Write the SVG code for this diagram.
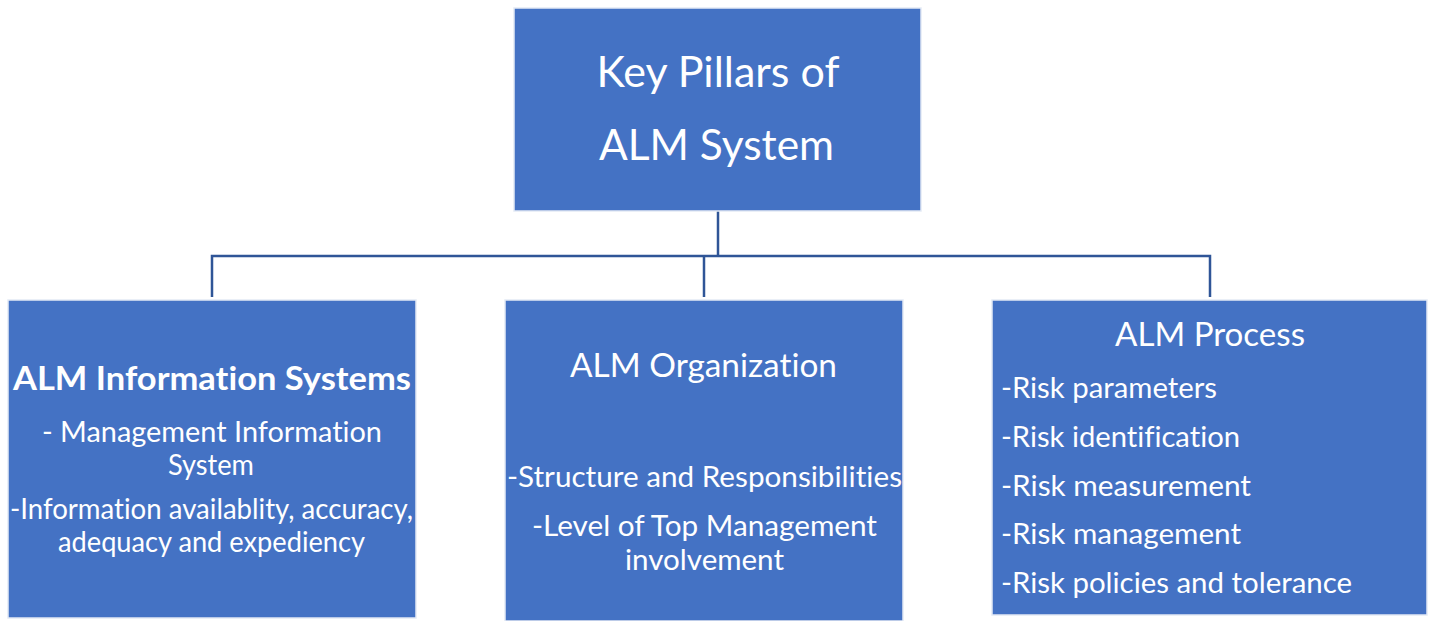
<svg xmlns="http://www.w3.org/2000/svg" width="1430" height="621" viewBox="0 0 1430 621">
<style>
.box{fill:#4472C4;stroke:#e4eaf5;stroke-width:1.5}
.t{font-family:Lato,"Open Sans","Liberation Sans",sans-serif;fill:#ffffff;font-variant-ligatures:none;font-feature-settings:"liga" 0,"clig" 0}
.c{text-anchor:middle}
.title{font-size:43px}
.head{font-size:32px}
.body{font-size:28px}
.bold{font-weight:bold}
.conn{fill:none;stroke:#2F5597;stroke-width:2.5}
</style>
<rect width="1430" height="621" fill="#ffffff"/>
<g id="connectors">
<path class="conn" d="M718 211 V256"/>
<path class="conn" d="M212 297 V256 H1210 V297"/>
<path class="conn" d="M704 256 V297"/>
</g>
<g id="top">
<rect class="box" x="514" y="8" width="407" height="203"/>
<text class="t c title" x="718" y="87" textLength="243" lengthAdjust="spacingAndGlyphs">Key Pillars of</text>
<text class="t c title" x="716.5" y="160" textLength="235" lengthAdjust="spacingAndGlyphs">ALM System</text>
</g>
<g id="info-systems">
<rect class="box" x="8" y="300" width="408" height="318"/>
<text class="t c head bold" x="212" y="390" textLength="398" lengthAdjust="spacingAndGlyphs">ALM Information Systems</text>
<text class="t c body" x="212" y="442" textLength="340" lengthAdjust="spacingAndGlyphs">- Management Information</text>
<text class="t c body" x="211" y="475" textLength="86" lengthAdjust="spacingAndGlyphs">System</text>
<text class="t c body" x="211.5" y="519" textLength="403" lengthAdjust="spacingAndGlyphs">-Information availablity, accuracy,</text>
<text class="t c body" x="211.5" y="552" textLength="307" lengthAdjust="spacingAndGlyphs">adequacy and expediency</text>
</g>
<g id="organization">
<rect class="box" x="505" y="300" width="398" height="321"/>
<text class="t c head" x="703.5" y="377" textLength="267" lengthAdjust="spacingAndGlyphs">ALM Organization</text>
<text class="t c body" x="704.5" y="487" textLength="395" lengthAdjust="spacingAndGlyphs">-Structure and Responsibilities</text>
<text class="t c body" x="704.5" y="536" textLength="345" lengthAdjust="spacingAndGlyphs">-Level of Top Management</text>
<text class="t c body" x="704.5" y="570" textLength="159" lengthAdjust="spacingAndGlyphs">involvement</text>
</g>
<g id="process">
<rect class="box" x="992" y="300" width="435" height="315"/>
<text class="t c head" x="1210" y="346" textLength="190" lengthAdjust="spacingAndGlyphs">ALM Process</text>
<text class="t body" x="1001" y="398" textLength="216" lengthAdjust="spacingAndGlyphs">-Risk parameters</text>
<text class="t body" x="1001" y="447" textLength="239" lengthAdjust="spacingAndGlyphs">-Risk identification</text>
<text class="t body" x="1001" y="496" textLength="250" lengthAdjust="spacingAndGlyphs">-Risk measurement</text>
<text class="t body" x="1001" y="544" textLength="240" lengthAdjust="spacingAndGlyphs">-Risk management</text>
<text class="t body" x="1001" y="593" textLength="351" lengthAdjust="spacingAndGlyphs">-Risk policies and tolerance</text>
</g>
</svg>
